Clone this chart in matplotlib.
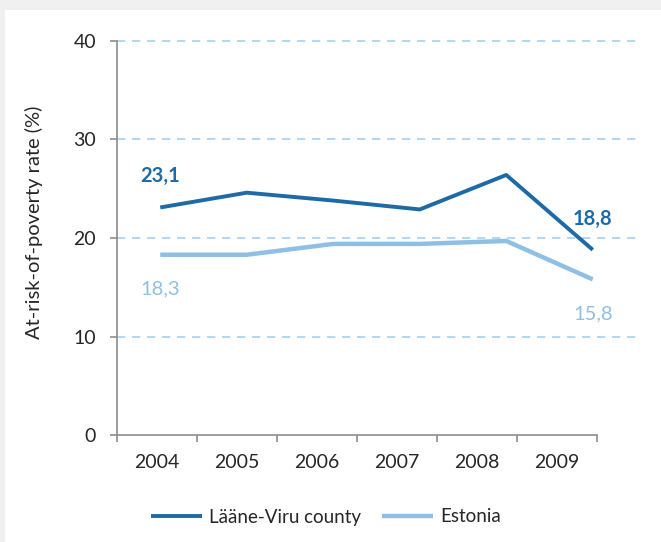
import numpy as np
import matplotlib
matplotlib.use('Agg')
import matplotlib.pyplot as plt

years = ['2004', '2005', '2006', '2007', '2008', '2009']
laane_viru = [23.1, 24.6, 23.8, 22.9, 26.4, 18.8]
estonia = [18.3, 18.3, 19.4, 19.4, 19.7, 15.8]
series_names = ['Lääne-Viru county', 'Estonia']

dark = '#1d6aa6'
light = '#8fc0e4'
grid_col = '#a8d0ee'
axis_col = '#8c8c8c'
text_col = '#262626'

plt.rcParams['font.family'] = ['Lato', 'DejaVu Sans']

fig = plt.figure(figsize=(6.61, 5.42), dpi=100)
fig.patch.set_facecolor('#f0f0f0')

# white panel behind everything
bg = fig.add_axes([5 / 661, 0, 1, 1 - 10 / 542], zorder=-5)
bg.axis('off')
bg.add_patch(plt.Rectangle((0, 0), 1, 1, transform=bg.transAxes, facecolor='white', edgecolor='none'))

# category axis (shorter than the plot area, like the original)
ax = fig.add_axes([117 / 661, 1 - 435 / 542, (636 - 117) / 661, (435 - 41) / 542])
ax.set_facecolor('none')
ax.set_ylim(0, 40)
ax.set_yticks([0, 10, 20, 30, 40])
ax.set_xlim(0, 6 * 519 / 480)
ax.set_xticks(np.arange(0, 7))
ax.set_xticklabels([])
ax.set_xticks(np.arange(6) + 0.5, minor=True)
ax.set_xticklabels(years, minor=True)
ax.tick_params(axis='x', which='minor', length=0, pad=14, labelsize=14, labelcolor=text_col)
ax.tick_params(axis='x', which='major', length=5, width=1.2, color=axis_col)
ax.tick_params(axis='y', length=5, width=1.2, color=axis_col, labelsize=14, labelcolor=text_col, pad=10)
for s in ['top', 'right']:
    ax.spines[s].set_visible(False)
ax.spines['left'].set_color(axis_col)
ax.spines['bottom'].set_color(axis_col)
ax.spines['left'].set_linewidth(1.2)
ax.spines['bottom'].set_linewidth(1.2)
ax.spines['bottom'].set_bounds(0, 6)
for v in [10, 20, 30, 40]:
    ax.axhline(v, color=grid_col, lw=1.2, ls=(0, (5, 4)), zorder=1, clip_on=False)
ax.set_ylabel('At-risk-of-poverty rate (%)', fontsize=14.5, color=text_col)
ax.yaxis.set_label_coords(-0.143, 0.54)

# lines sit on the full-width plot area
ax2 = ax.twiny()
ax2.set_xlim(-0.5, 5.5)
ax2.set_ylim(0, 40)
ax2.axis('off')
x = np.arange(len(years))
l1, = ax2.plot(x, laane_viru, color=dark, lw=2.8, solid_capstyle='butt', zorder=3)
l2, = ax2.plot(x, estonia, color=light, lw=3.2, solid_capstyle='butt', zorder=2)

ax2.text(x[0], laane_viru[0] + 3.2, '23,1', color=dark, fontsize=14.5, fontweight='bold',
         ha='center', va='center')
ax2.text(x[-1], laane_viru[-1] + 3.1, '18,8', color=dark, fontsize=14.5, fontweight='bold',
         ha='center', va='center')
ax2.text(x[0], estonia[0] - 3.5, '18,3', color=light, fontsize=14.5, ha='center', va='center')
ax2.text(x[-1], estonia[-1] - 3.5, '15,8', color=light, fontsize=14.5, ha='center', va='center')

fig.legend([l1, l2], series_names, loc='center', bbox_to_anchor=(326 / 661, 1 - 517 / 542),
           ncol=2, frameon=False, fontsize=13.5, handlelength=2.7, columnspacing=1.1,
           handletextpad=0.4, labelcolor=text_col)

fig.savefig('out.png', dpi=100, facecolor=fig.get_facecolor())
